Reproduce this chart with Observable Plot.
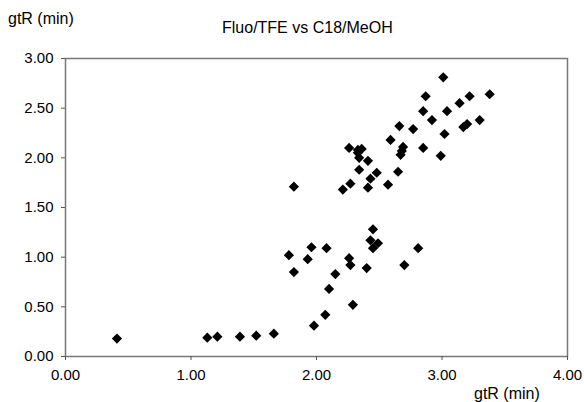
<!DOCTYPE html>
<html>
<head>
<meta charset="utf-8">
<script src="https://cdn.jsdelivr.net/npm/d3@7"></script>
<script src="https://cdn.jsdelivr.net/npm/@observablehq/plot@0.6"></script>
<style>
  html, body { margin: 0; padding: 0; background: #fff; }
  #wrap { position: relative; width: 584px; height: 402px; font-family: "Liberation Sans", Arial, sans-serif; color: #000; }
  .lbl { position: absolute; white-space: nowrap; font-size: 16px; line-height: 1; }
</style>
</head>
<body>
<div id="wrap">
  <div class="lbl" id="ylab" style="left:8px; top:11px;">gtR (min)</div>
  <div class="lbl" id="title" style="left:222px; top:20px;">Fluo/TFE vs C18/MeOH</div>
  <div class="lbl" id="xlab" style="left:474px; top:386px;">gtR (min)</div>
</div>
<script>
// gtR on C18/MeOH (x) vs gtR on Fluo/TFE (y), minutes
const xValues = [0.41, 1.13, 1.21, 1.39, 1.52, 1.66, 1.78, 1.82, 1.93, 1.96, 1.98, 1.82,
  2.45, 2.43, 2.49, 2.45, 2.08, 2.26, 2.27, 2.40, 2.70, 2.81, 2.15, 2.10, 2.29, 2.07,
  3.01, 2.87, 3.22, 3.38, 3.14, 3.04, 2.85, 2.92, 3.30, 3.17, 3.20, 3.02, 2.85, 2.99,
  2.66, 2.77, 2.59, 2.69, 2.68, 2.67, 2.26, 2.36, 2.33, 2.33, 2.34, 2.41, 2.34, 2.48,
  2.43, 2.65, 2.57, 2.27, 2.21, 2.41];
const yValues = [0.18, 0.19, 0.20, 0.20, 0.21, 0.23, 1.02, 0.85, 0.98, 1.10, 0.31, 1.71,
  1.28, 1.17, 1.14, 1.09, 1.09, 0.99, 0.92, 0.89, 0.92, 1.09, 0.83, 0.68, 0.52, 0.42,
  2.81, 2.62, 2.62, 2.64, 2.55, 2.47, 2.47, 2.38, 2.38, 2.31, 2.34, 2.24, 2.10, 2.02,
  2.32, 2.29, 2.18, 2.11, 2.07, 2.03, 2.10, 2.09, 2.08, 2.05, 2.00, 1.97, 1.88, 1.85,
  1.79, 1.86, 1.73, 1.74, 1.68, 1.70];
const xTicks = [0, 1, 2, 3, 4];
const yTicks = [0, 0.5, 1, 1.5, 2, 2.5, 3];

const data = xValues.map((x, i) => ({x, y: yValues[i]}));
const fmt = d3.format(".2f");

const chart = Plot.plot({
  width: 584,
  height: 402,
  marginLeft: 65,
  marginRight: 17,
  marginTop: 58,
  marginBottom: 46,
  style: {fontFamily: "Liberation Sans, Arial, sans-serif", fontSize: "15px", color: "#000", background: "#fff"},
  x: {domain: [0, 4]},
  y: {domain: [0, 3]},
  marks: [
    Plot.frame({stroke: "#777", strokeWidth: 1.5}),
    Plot.axisX({ticks: xTicks, tickFormat: fmt, tickSize: 4, tickPadding: 9, label: null, fontSize: 15, stroke: "#555"}),
    Plot.axisY({ticks: yTicks, tickFormat: fmt, tickSize: 4, tickPadding: 8, label: null, fontSize: 15, stroke: "#555"}),
    Plot.dot(data, {x: "x", y: "y", symbol: "diamond2", r: 4.6, fill: "#000", stroke: "none"})
  ]
});
document.getElementById("wrap").prepend(chart);
chart.style.position = "absolute";
chart.style.left = "0";
chart.style.top = "0";
</script>
</body>
</html>
